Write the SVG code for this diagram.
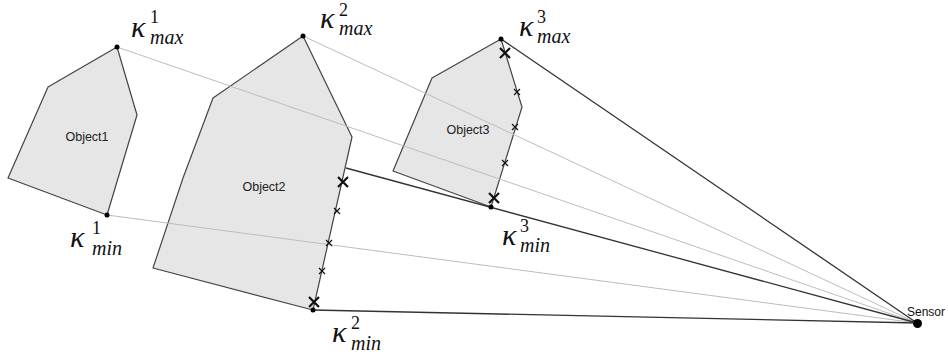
<svg xmlns="http://www.w3.org/2000/svg" width="948" height="356" viewBox="0 0 948 356">
<style>
.obj{fill:#e6e6e6;stroke:#444;stroke-width:1.2;stroke-linejoin:round}
.lt{stroke:#bdbdbd;stroke-width:1;fill:none}
.dk{stroke:#333;stroke-width:1.3;fill:none}
.olab{font-family:"Liberation Sans",Arial,sans-serif;font-size:12.5px;fill:#222;text-anchor:middle}
.k{font-family:"Liberation Serif","Times New Roman",serif;font-style:italic;font-size:30px;fill:#111}
.sub{font-family:"Liberation Serif","Times New Roman",serif;font-style:italic;font-size:20px}
.sup{font-family:"Liberation Serif","Times New Roman",serif;font-style:normal;font-size:18px}
.bx{stroke:#111;stroke-width:2.2;fill:none}
.sx{stroke:#111;stroke-width:1.2;fill:none}
.dot{fill:#000}
</style>
<g id="object1">
<polygon class="obj" points="117,47 137,115 107,215 8,178 48,87"/>
<text class="olab" x="87" y="141">Object1</text>
</g>
<g id="object2">
<polygon class="obj" points="303,36 352,137 313,310 153,268 183,178 213,98"/>
<text class="olab" x="264" y="191">Object2</text>
</g>
<g id="object3">
<polygon class="obj" points="501,39 522,107 491,207 393,171 432,78"/>
<text class="olab" x="468" y="134">Object3</text>
</g>
<g id="connectors">
<line class="lt" x1="117" y1="47" x2="917" y2="323"/>
<line class="lt" x1="107" y1="215" x2="917" y2="323"/>
<line class="lt" x1="303" y1="36" x2="917" y2="323"/>
<line class="dk" x1="501" y1="39" x2="917" y2="323"/>
<line class="dk" x1="346" y1="168" x2="917" y2="323"/>
<line class="dk" x1="313" y1="310" x2="917" y2="323"/>
</g>
<g id="marks">
<path class="bx" d="M338,177 l10,10 M348,177 l-10,10"/>
<path class="sx" d="M334,208 l6,6 M340,208 l-6,6"/>
<path class="sx" d="M326,240 l6,6 M332,240 l-6,6"/>
<path class="sx" d="M319,268 l6,6 M325,268 l-6,6"/>
<path class="bx" d="M309,297 l10,10 M319,297 l-10,10"/>
<path class="bx" d="M500,48 l10,10 M510,48 l-10,10"/>
<path class="sx" d="M514,89 l6,6 M520,89 l-6,6"/>
<path class="sx" d="M512,124 l6,6 M518,124 l-6,6"/>
<path class="sx" d="M502,160 l6,6 M508,160 l-6,6"/>
<path class="bx" d="M489,193 l10,10 M499,193 l-10,10"/>
</g>
<g id="points">
<circle class="dot" cx="117" cy="47" r="2.5"/>
<circle class="dot" cx="107" cy="215" r="2.5"/>
<circle class="dot" cx="303" cy="36" r="2.5"/>
<circle class="dot" cx="313" cy="310" r="2.5"/>
<circle class="dot" cx="501" cy="39" r="2.5"/>
<circle class="dot" cx="491" cy="207" r="2.5"/>
</g>
<g id="sensor">
<circle class="dot" cx="917.5" cy="323.5" r="4.5"/>
<text x="907" y="316" style="font-family:'Liberation Sans',Arial,sans-serif;font-size:12px;fill:#111">Sensor</text>
</g>
<g id="labels">
<text class="k" x="131" y="37">κ<tspan class="sup" x="150" y="23">1</tspan><tspan class="sub" x="150" y="44">max</tspan></text>
<text class="k" x="320" y="28">κ<tspan class="sup" x="339" y="16">2</tspan><tspan class="sub" x="339" y="35">max</tspan></text>
<text class="k" x="519" y="36">κ<tspan class="sup" x="537" y="23">3</tspan><tspan class="sub" x="537" y="43">max</tspan></text>
<text class="k" x="70" y="247">κ<tspan class="sup" x="92" y="234">1</tspan><tspan class="sub" x="92" y="255">min</tspan></text>
<text class="k" x="332" y="342">κ<tspan class="sup" x="351" y="329">2</tspan><tspan class="sub" x="351" y="350">min</tspan></text>
<text class="k" x="502" y="245">κ<tspan class="sup" x="520" y="232">3</tspan><tspan class="sub" x="520" y="252">min</tspan></text>
</g>
</svg>
